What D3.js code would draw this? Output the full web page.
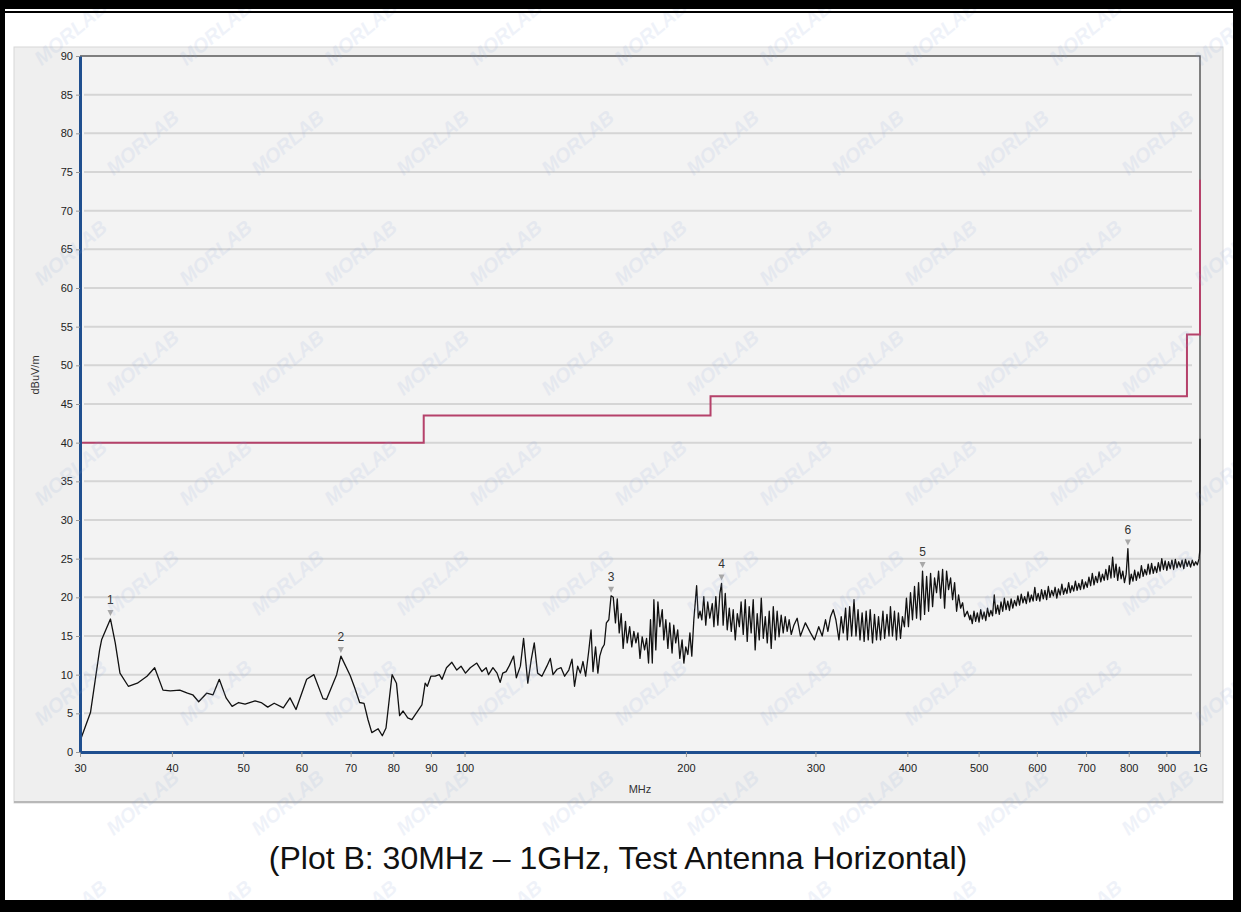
<!DOCTYPE html>
<html>
<head>
<meta charset="utf-8">
<script src="https://cdnjs.cloudflare.com/ajax/libs/d3/7.8.5/d3.min.js"></script>
<style>
  body{margin:0;background:#fff;}
  svg{display:block;}
  text{font-family:Arial,"Liberation Sans",sans-serif;}
</style>
</head>
<body>
<div id="chart"></div>
<script>
// measured trace, [MHz, dBuV/m]
var trace = [
 [30.0,1.4],[31.0,5.1],[31.9,13.2],[32.1,14.5],[33.0,17.2],[33.5,14.1],[34.0,10.2],[34.9,8.5],[35.9,8.9],[37.0,9.8],
 [37.9,10.9],[38.9,8.0],[39.8,7.9],[41.0,8.0],[42.0,7.6],[42.7,7.4],[43.5,6.5],[44.6,7.6],[45.5,7.4],[46.4,9.4],
 [47.4,7.0],[48.3,5.9],[49.3,6.4],[50.3,6.2],[51.9,6.6],[52.9,6.4],[54.0,5.8],[55.1,6.3],[56.7,5.7],[57.9,7.0],
 [59.0,5.5],[61.0,9.4],[62.4,10.0],[64.2,6.9],[64.9,6.8],[67.0,10.0],[67.9,12.4],[69.9,9.9],[70.9,8.3],[72.0,6.4],
 [73.0,6.3],[73.9,4.2],[74.8,2.5],[76.3,3.0],[77.3,2.1],[78.2,3.1],[79.7,10.0],[80.8,8.9],[81.6,4.7],[82.5,5.3],
 [83.7,4.4],[84.8,4.2],[87.5,6.1],[88.4,8.9],[89.0,8.5],[90.0,9.8],[91.2,9.8],[92.4,10.0],[93.2,9.4],[94.5,10.9],
 [96.1,11.6],[97.6,10.6],[98.9,11.1],[100.3,10.2],[101.8,10.9],[103.9,11.5],[105.6,10.4],[107.0,10.9],[107.8,10.0],[109.3,10.9],
 [110.7,10.2],[111.8,9.0],[112.7,10.2],[113.9,10.4],[115.1,11.2],[116.6,12.4],[117.6,9.6],[119.1,11.1],[120.3,14.7],[121.9,8.9],
 [123.2,11.9],[124.4,14.1],[125.7,10.2],[127.4,9.8],[129.4,11.1],[130.8,12.1],[131.9,10.0],[133.6,10.7],[135.3,10.9],[136.8,9.8],
 [138.6,10.6],[140.0,12.0],[141.1,8.5],[142.5,11.1],[143.7,10.2],[144.9,11.7],[146.1,9.8],[147.5,13.0],[148.6,15.8],[149.5,10.4],
 [150.7,13.6],[151.8,10.2],[152.7,12.4],[153.8,13.4],[154.9,13.9],[155.9,16.7],[157.1,17.1],[158.2,20.2],[159.3,20.0],[160.4,16.7],
 [161.3,19.8],[162.3,15.4],[163.3,17.9],[164.3,13.4],[165.5,16.9],[166.4,14.1],[167.7,16.2],[168.8,13.6],[169.9,15.6],[171.0,14.1],
 [172.1,15.4],[173.2,12.1],[174.4,14.9],[175.7,13.2],[176.8,14.7],[177.9,11.5],[179.0,17.1],[180.0,11.5],[180.9,19.7],[182.0,13.2],
 [183.2,19.4],[184.3,16.2],[185.7,18.4],[186.6,14.5],[187.8,17.1],[189.0,13.4],[190.1,16.7],[191.5,12.8],[192.5,16.4],[193.7,14.1],
 [194.9,15.8],[196.2,12.1],[197.6,14.5],[198.7,11.5],[199.9,13.6],[201.2,12.6],[202.5,15.4],[203.7,12.4],[205.0,17.1],[206.8,21.5],
 [207.9,17.3],[209.0,18.2],[210.2,17.1],[211.5,20.1],[212.8,16.4],[214.1,19.4],[215.5,17.3],[217.2,19.2],[218.3,16.2],[219.6,20.1],
 [221.0,16.4],[222.4,20.5],[223.6,21.8],[224.7,16.4],[226.2,20.5],[227.6,15.8],[229.1,18.6],[230.5,15.6],[231.9,18.4],[233.4,14.5],
 [234.9,17.9],[236.4,16.2],[237.7,19.4],[239.3,15.2],[240.8,19.7],[242.3,14.3],[243.8,18.8],[245.3,15.4],[246.9,19.7],[248.4,13.2],
 [250.0,17.9],[251.6,14.5],[253.2,19.9],[254.8,14.7],[256.4,17.5],[258.0,14.1],[259.6,18.2],[261.2,13.4],[262.9,18.8],[264.5,14.5],
 [266.1,18.2],[267.7,14.9],[269.5,17.7],[271.2,15.4],[272.9,17.5],[274.6,15.6],[276.3,17.1],[278.1,15.2],[280.4,16.4],[283.3,17.3],
 [286.2,15.0],[290.7,16.7],[295.4,15.4],[299.1,14.5],[303.1,16.2],[306.4,15.0],[309.6,17.1],[311.9,15.6],[314.5,17.5],[317.2,18.4],
 [319.8,17.1],[322.9,14.5],[325.2,17.5],[327.3,15.4],[329.7,18.6],[331.5,14.5],[333.9,18.8],[336.0,15.0],[338.5,19.7],[340.6,15.0],
 [342.8,18.4],[344.9,14.5],[347.2,18.0],[349.4,14.3],[351.6,18.2],[353.9,14.5],[356.1,18.4],[358.7,14.1],[360.9,17.8],[363.2,14.5],
 [365.5,17.5],[367.8,14.5],[370.6,18.2],[372.5,14.7],[375.3,17.8],[377.7,15.0],[379.4,18.8],[381.8,15.0],[384.2,18.2],[386.6,14.5],
 [389.0,18.0],[391.5,14.7],[393.9,17.5],[396.4,16.2],[398.9,19.9],[401.4,16.2],[404.0,20.6],[406.5,17.1],[409.1,21.4],[411.7,17.3],
 [414.3,21.9],[416.9,17.1],[419.5,23.4],[422.2,17.8],[424.9,22.7],[427.5,18.2],[430.2,23.1],[432.9,18.8],[435.6,22.5],[438.3,20.6],
 [441.1,23.4],[443.9,19.9],[446.7,23.6],[449.5,18.6],[452.3,23.4],[455.1,21.0],[458.0,22.5],[460.9,19.7],[463.8,21.9],[466.7,18.2],
 [469.6,20.3],[472.6,18.6],[475.6,19.3],[478.5,17.5],[482.6,18.2],[486.5,17.1],
 [487.6,17.7],[490.2,16.6],[492.8,18.2],[495.4,16.9],[498.0,18.0],[500.7,16.8],[503.3,18.4],[506.0,17.2],[508.7,18.1],[511.4,17.0],
 [514.1,18.6],[516.8,17.5],[519.6,18.3],[522.3,17.6],[525.1,20.3],[527.9,17.9],[530.7,19.0],[533.5,17.8],[536.3,19.4],[539.2,18.2],
 [542.0,19.9],[544.9,18.4],[547.8,19.5],[550.7,18.3],[553.6,19.8],[556.5,18.6],[559.5,19.6],[562.5,18.9],[565.4,20.2],[568.4,19.0],
 [571.4,20.4],[574.5,19.3],[577.5,20.1],[580.6,19.2],[583.7,20.7],[586.8,19.4],[589.9,20.3],[593.0,19.5],[596.2,21.3],[599.3,19.6],
 [602.5,20.5],[605.7,19.5],[608.9,21.0],[612.2,19.8],[615.4,20.9],[618.7,19.7],[622.0,21.4],[625.3,20.0],[628.6,20.9],[631.9,20.2],
 [635.3,21.3],[638.7,19.9],[642.0,21.1],[645.5,20.3],[648.9,21.7],[652.3,20.4],[655.8,21.2],[659.3,20.5],[662.8,21.9],[666.3,20.6],
 [669.8,21.5],[673.4,20.8],[677.0,22.1],[680.6,20.9],[684.2,21.8],[687.8,21.0],[691.5,22.3],[695.1,21.1],[698.8,22.0],[702.5,21.3],
 [706.3,22.6],[710.0,21.5],[713.8,23.1],[717.6,21.6],[721.4,22.7],[725.2,21.9],[729.1,23.3],[733.0,22.0],[736.9,23.0],[740.8,22.2],
 [744.7,23.6],[748.7,22.3],[752.7,24.1],[756.7,22.5],[760.7,25.2],[764.7,22.6],[768.8,24.3],[772.9,22.2],[777.0,23.9],[781.1,22.4],
 [785.3,23.4],[789.4,21.9],[793.6,23.0],[797.9,26.3],[802.1,21.7],[806.4,23.0],[810.7,22.1],[815.0,23.5],[819.3,22.2],[823.7,23.3],
 [828.0,22.5],[832.4,24.1],[836.9,22.7],[841.3,23.6],[845.8,22.9],[850.3,24.3],[854.8,23.0],[859.4,24.4],[863.9,23.1],[868.5,24.0],
 [873.2,23.2],[877.8,24.5],[882.5,23.4],[887.2,25.0],[891.9,23.6],[896.6,24.7],[901.4,23.5],[906.2,24.6],[911.0,23.7],[915.9,24.8],
 [920.8,23.6],[925.7,24.9],[930.6,23.8],[935.5,24.6],[940.5,23.9],[945.5,24.8],[950.5,23.7],[955.6,24.9],[960.7,24.0],[965.8,24.7],
 [970.9,23.9],[976.1,24.8],[981.3,24.1],[986.5,24.6],[991.7,24.2],[997.0,25.0],[999.6,26.1],[1000,40.5]
];

// FCC class B limit (step line)
var limitFreq  = [30, 88, 88, 216, 216, 960, 960, 1000, 1000];
var limitLevel = [40, 40, 43.5, 43.5, 46, 46, 54, 54, 74];

// peak markers
var markerFreq  = [33.0, 67.9, 158.2, 223.6, 419.5, 797.9];
var markerLevel = [17.2, 12.4, 20.2, 21.8, 23.4, 26.3];
var markerLabel = ["1","2","3","4","5","6"];

var xTicks = [30,40,50,60,70,80,90,100,200,300,400,500,600,700,800,900,1000];
var xTickLabels = ["30","40","50","60","70","80","90","100","200","300","400","500","600","700","800","900","1G"];
var yTicks = [0,5,10,15,20,25,30,35,40,45,50,55,60,65,70,75,80,85,90];

var W=1241, H=912;
var svg=d3.select("#chart").append("svg").attr("width",W).attr("height",H);

svg.append("rect").attr("width",W).attr("height",H).attr("fill","#fff");

// grey chart panel
svg.append("rect").attr("x",14).attr("y",47).attr("width",1209).attr("height",756)
   .attr("fill","#efefef").attr("stroke","#d8d8d8");
svg.append("line").attr("x1",14).attr("x2",1223).attr("y1",802).attr("y2",802)
   .attr("stroke","#b8b8b8").attr("stroke-width",2);

var x=d3.scaleLog().domain([30,1000]).range([80,1200]);
var y=d3.scaleLinear().domain([0,90]).range([752,56]);

svg.append("rect").attr("x",80).attr("y",56).attr("width",1120).attr("height",696).attr("fill","#f3f3f3");

// grid
svg.append("g").selectAll("line").data(yTicks.filter(d=>d>0&&d<90)).enter().append("line")
   .attr("x1",84).attr("x2",1192).attr("y1",d=>y(d)).attr("y2",d=>y(d))
   .attr("stroke","#d5d5d5").attr("stroke-width",2);

// top / right frame of plot
svg.append("path").attr("d","M80,"+y(90)+"H"+x(1000)+"V"+y(0))
   .attr("fill","none").attr("stroke","#5a5a5a").attr("stroke-width",1.5);

// limit line
var limitData=limitFreq.map((f,i)=>[f,limitLevel[i]]);
var line=d3.line().x(d=>x(d[0])).y(d=>y(d[1]));
svg.append("path").datum(limitData).attr("d",line)
   .attr("fill","none").attr("stroke","#b5416a").attr("stroke-width",2);

// trace
svg.append("path").datum(trace).attr("d",line)
   .attr("fill","none").attr("stroke","#111").attr("stroke-width",1.3).attr("stroke-linejoin","round");

// axes
var xAxis=d3.axisBottom(x).tickValues(xTicks).tickFormat((d,i)=>xTickLabels[i]).tickSize(5).tickSizeOuter(0);
var gx=svg.append("g").attr("transform","translate(0,752)").call(xAxis);
var yAxis=d3.axisLeft(y).tickValues(yTicks).tickSize(4).tickSizeOuter(0);
var gy=svg.append("g").attr("transform","translate(80,0)").call(yAxis);
[gx,gy].forEach(g=>{
  g.select(".domain").attr("stroke","#1f4f8f").attr("stroke-width",3);
  g.selectAll(".tick line").attr("stroke","#999");
  g.selectAll(".tick text").attr("fill","#222").style("font-size","11px");
});
gx.selectAll(".tick text").attr("dy","1.1em");

svg.append("text").attr("x",640).attr("y",793).attr("text-anchor","middle")
   .attr("fill","#333").style("font-size","11px").text("MHz");
svg.append("text").attr("transform","translate(39,375) rotate(-90)").attr("text-anchor","middle")
   .attr("fill","#333").style("font-size","11px").text("dBuV/m");

// markers
var mk=svg.append("g").selectAll("g").data(markerFreq).enter().append("g")
   .attr("transform",(d,i)=>"translate("+x(d)+","+y(markerLevel[i])+")");
mk.append("path").attr("d","M-3,-9L3,-9L0,-3Z").attr("fill","#a8a8a8");
mk.append("text").attr("y",-15).attr("text-anchor","middle").attr("fill","#333")
   .style("font-size","12px").text((d,i)=>markerLabel[i]);

// watermark
var wm=[];
for(var r=0;r<9;r++) for(var c=0;c<9;c++) wm.push([75+c*145+(r%2)*72, 38+r*110]);
svg.append("g").selectAll("text").data(wm).enter().append("text")
   .attr("transform",d=>"translate("+d[0]+","+d[1]+") rotate(-40)")
   .attr("text-anchor","middle").attr("fill","#8aa4d6").attr("opacity",0.13)
   .style("font-size","20px").style("font-weight","bold").style("font-style","italic").text("MORLAB");

// caption
svg.append("text").attr("x",618).attr("y",869).attr("text-anchor","middle")
   .attr("fill","#111").style("font-size","32px").text("(Plot B: 30MHz \u2013 1GHz, Test Antenna Horizontal)");

// black page frame
var fr=svg.append("g").attr("fill","#000");
fr.append("rect").attr("x",0).attr("y",0).attr("width",W).attr("height",9);
fr.append("rect").attr("x",0).attr("y",11).attr("width",W).attr("height",2);
fr.append("rect").attr("x",0).attr("y",0).attr("width",5).attr("height",H);
fr.append("rect").attr("x",1233).attr("y",0).attr("width",8).attr("height",H);
fr.append("rect").attr("x",0).attr("y",900).attr("width",W).attr("height",12);
</script>
</body>
</html>
